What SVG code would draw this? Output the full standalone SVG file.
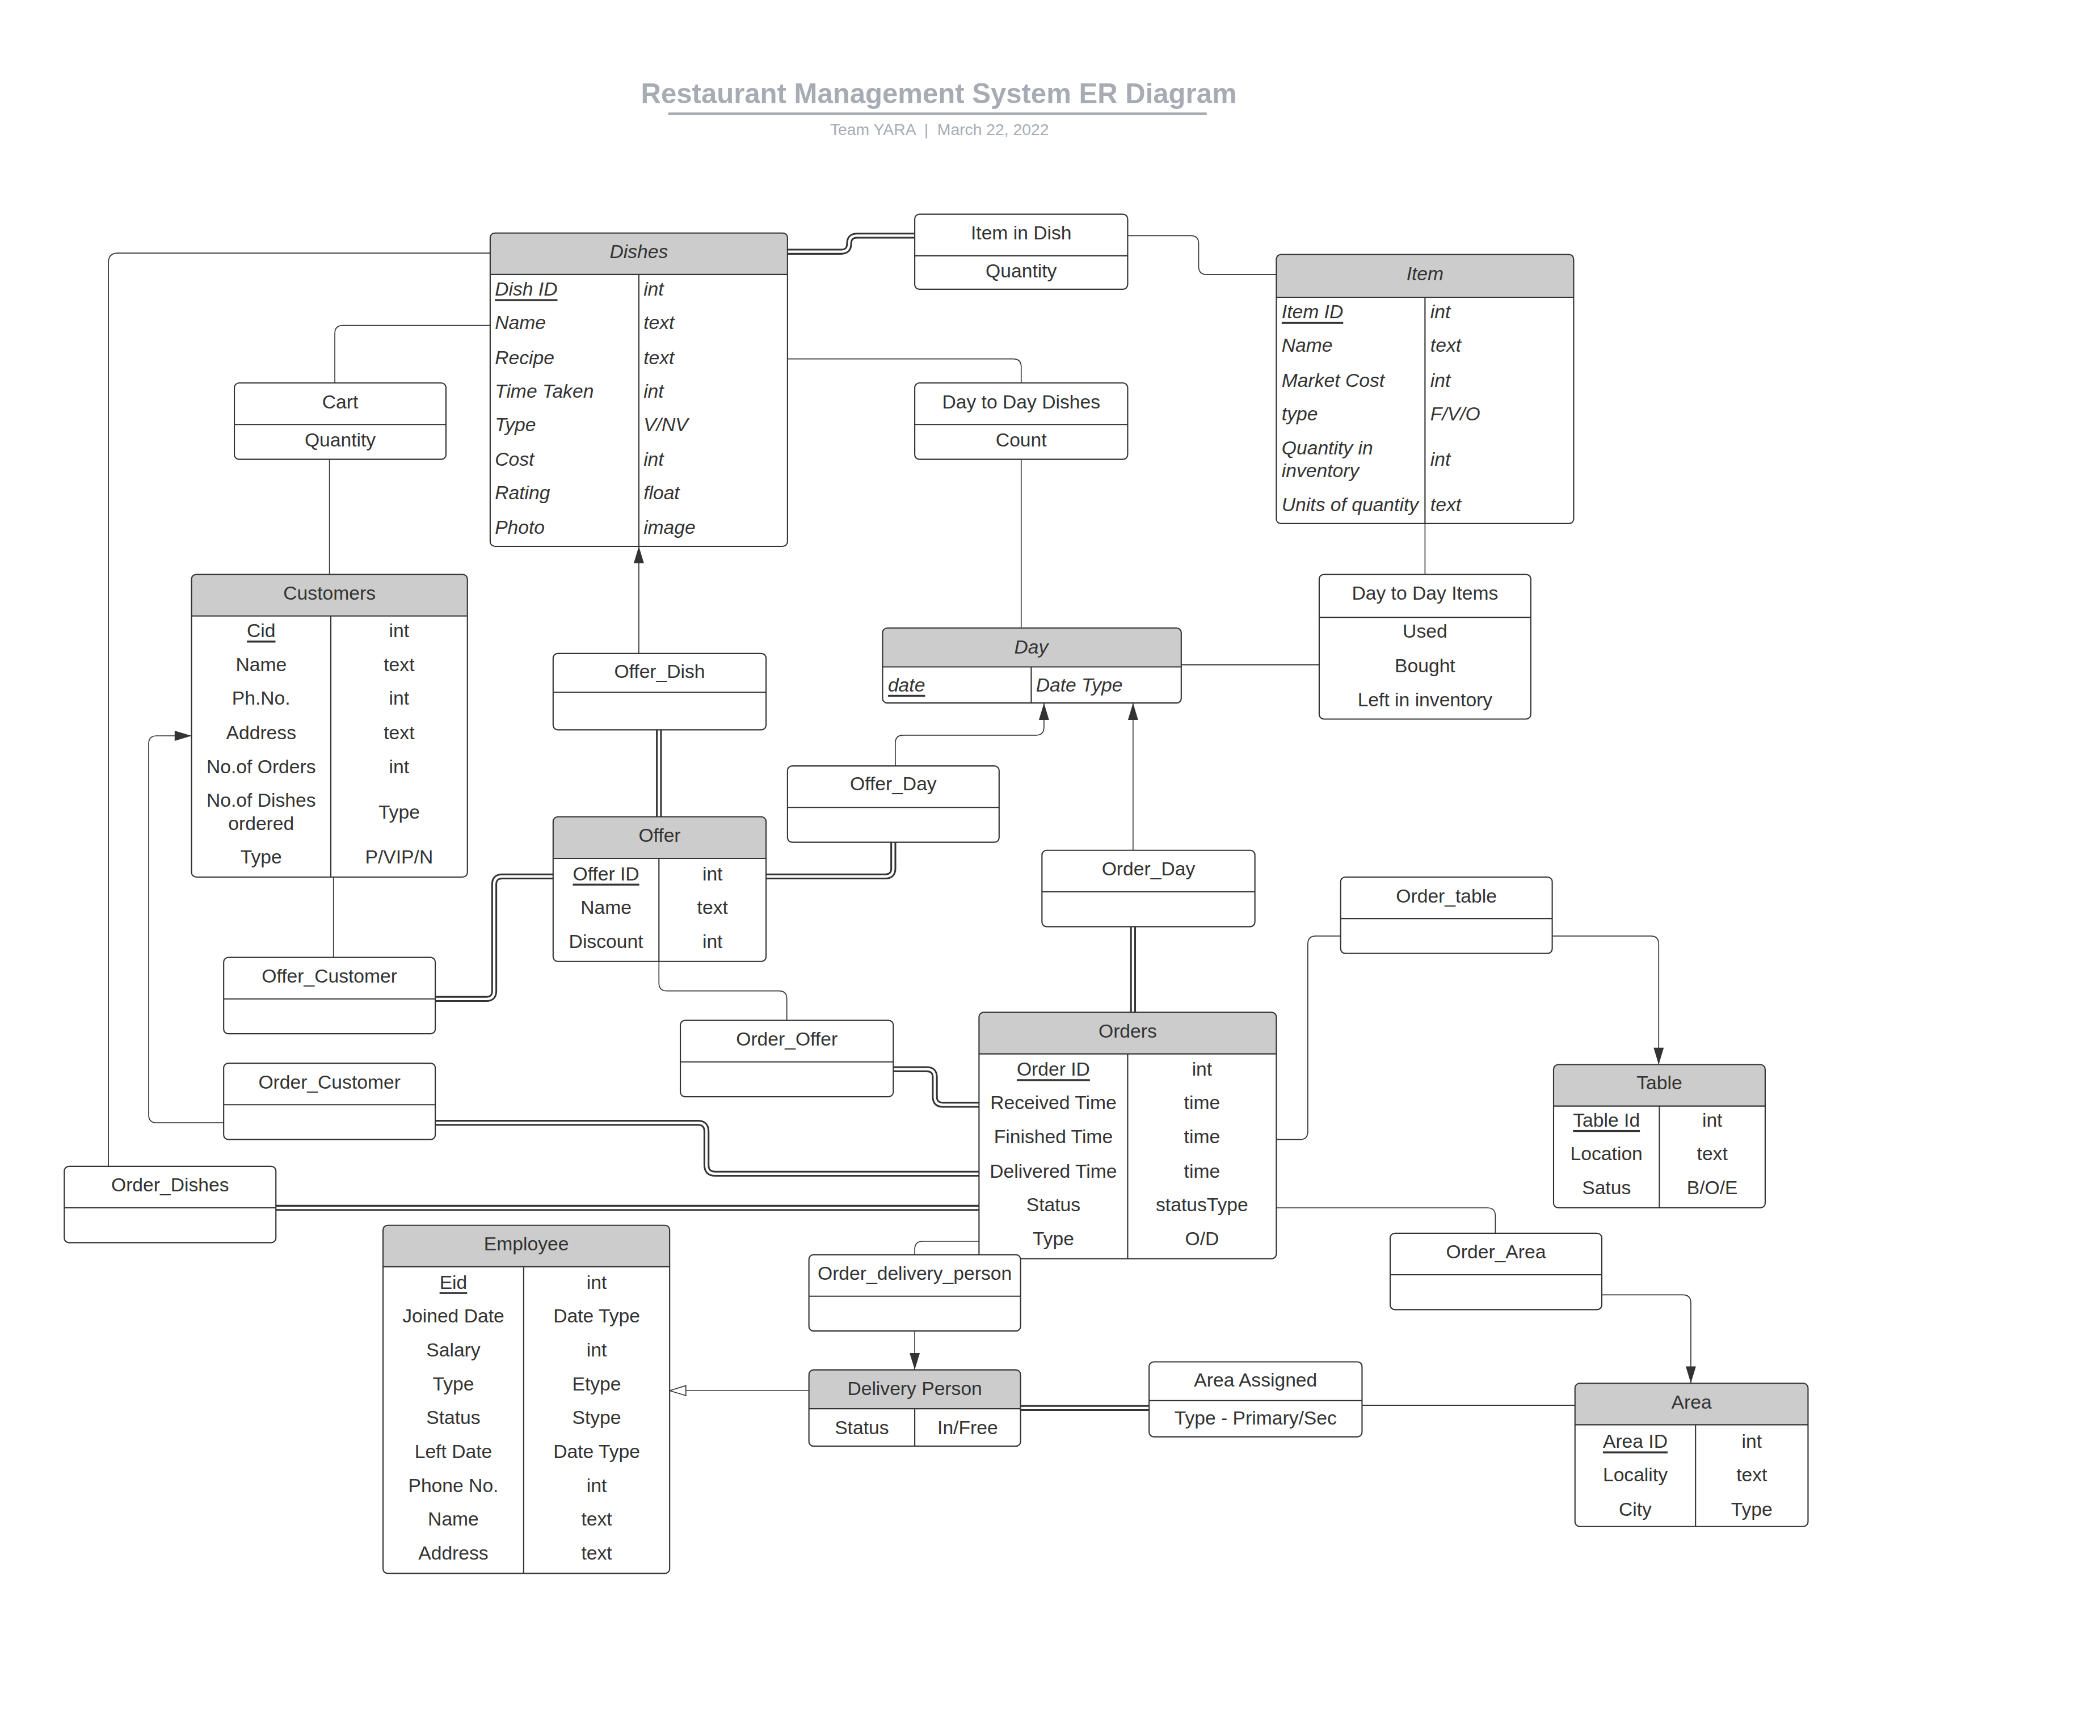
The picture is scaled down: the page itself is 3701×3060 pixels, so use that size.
<svg xmlns="http://www.w3.org/2000/svg" width="3701" height="3060" viewBox="0 0 3701 3060">
<style>
.bg{fill:#fff}
.h{fill:#cccccc}
.o{fill:none;stroke:#333;stroke-width:0.9}
.d{fill:none;stroke:#333;stroke-width:0.9}
.t{font-family:"Liberation Sans",Arial,sans-serif;font-size:14.26px;fill:#333;dominant-baseline:central}
.c{text-anchor:middle}
.i{font-style:italic}
.u{text-decoration:underline}
.ln{fill:none;stroke:#333;stroke-width:0.7}
.dbl{fill:none;stroke:#333;stroke-width:4.4}
.dbw{fill:none;stroke:#fff;stroke-width:1.8}
.ttl{font-family:"Liberation Sans",Arial,sans-serif;fill:#a6abb4;text-anchor:middle}
</style>
<defs>
<marker id="arr" markerUnits="userSpaceOnUse" markerWidth="14" markerHeight="9" refX="12.6" refY="3.8" orient="auto" overflow="visible"><path d="M0,0 L12.6,3.8 L0,7.6 Z" fill="#333"/></marker>
<marker id="tri" markerUnits="userSpaceOnUse" markerWidth="14" markerHeight="10" refX="12.6" refY="4.2" orient="auto" overflow="visible"><path d="M0.5,0.5 L12.6,4.2 L0.5,7.9 Z" fill="#fff" stroke="#333" stroke-width="0.7"/></marker>
</defs>
<rect width="3701" height="3060" fill="#fff"/>
<g transform="scale(2.36033)">
<g id="title">
<text class="ttl" x="701" y="77" font-size="20.8" font-weight="bold">Restaurant Management System ER Diagram</text>
<line x1="499" y1="85" x2="901" y2="85" stroke="#a6abb4" stroke-width="2.1"/>
<text class="ttl" x="701.5" y="101" font-size="12" xml:space="preserve">Team YARA  |  March 22, 2022</text>
</g>
<g id="connectors">
<path class="ln" d="M842,176 H889 Q895,176 895,182 V199 Q895,205 901,205 H953"/>
<path class="ln" d="M366,243 H256 Q250,243 250,249 V286"/>
<path class="ln" d="M246,343 V429"/>
<path class="ln" d="M588,268 H756.5 Q762.5,268 762.5,274 V286"/>
<path class="ln" d="M762.5,343 V469"/>
<path class="ln" d="M1064,391 V429"/>
<path class="ln" d="M882,496.5 H985"/>
<path class="ln" d="M477,488 V408" marker-end="url(#arr)"/>
<path class="ln" d="M668.5,572 V555 Q668.5,549 674.5,549 H773.5 Q779.5,549 779.5,543 V525" marker-end="url(#arr)"/>
<path class="ln" d="M249,655 V715"/>
<path class="ln" d="M492,718 V734 Q492,740 498,740 H581.5 Q587.5,740 587.5,746 V762"/>
<path class="ln" d="M846,635 V525" marker-end="url(#arr)"/>
<path class="ln" d="M81,871 V196 Q81,189 88,189 H366"/>
<path class="ln" d="M167,838.5 H117 Q111,838.5 111,832.5 V555.5 Q111,549.5 117,549.5 H143" marker-end="url(#arr)"/>
<path class="ln" d="M953,851 H970.5 Q976.5,851 976.5,845 V705 Q976.5,699 982.5,699 H1001"/>
<path class="ln" d="M1159,699 H1232.5 Q1238.5,699 1238.5,705 V795" marker-end="url(#arr)"/>
<path class="ln" d="M953,902 H1110.5 Q1116.5,902 1116.5,908 V921"/>
<path class="ln" d="M1196,967 H1256.5 Q1262.5,967 1262.5,973 V1033" marker-end="url(#arr)"/>
<path class="ln" d="M731,927 H689 Q683,927 683,933 V937"/>
<path class="ln" d="M683,994 V1023" marker-end="url(#arr)"/>
<path class="ln" d="M604,1038.5 H500" marker-end="url(#tri)"/>
<path class="ln" d="M1017,1049.5 H1176"/>
<g>
<path class="dbl" d="M588,188 H628 Q634,188 634,182 Q634,176 640,176 H683"/>
<path class="dbl" d="M492,545 V610"/>
<path class="dbl" d="M572,654.5 H661 Q667,654.5 667,648.5 V629"/>
<path class="dbl" d="M413,654.5 H375 Q369,654.5 369,660.5 V740 Q369,746 363,746 H325"/>
<path class="dbl" d="M846,692 V756"/>
<path class="dbl" d="M667,798.5 H692 Q698,798.5 698,804.5 V819 Q698,825 704,825 H731"/>
<path class="dbl" d="M325,838.5 H521 Q527.5,838.5 527.5,845 V870 Q527.5,876.5 534,876.5 H731"/>
<path class="dbl" d="M206,902 H731"/>
<path class="dbl" d="M762,1051.5 H858"/>
<path class="dbw" d="M588,188 H628 Q634,188 634,182 Q634,176 640,176 H683"/>
<path class="dbw" d="M492,545 V610"/>
<path class="dbw" d="M572,654.5 H661 Q667,654.5 667,648.5 V629"/>
<path class="dbw" d="M413,654.5 H375 Q369,654.5 369,660.5 V740 Q369,746 363,746 H325"/>
<path class="dbw" d="M846,692 V756"/>
<path class="dbw" d="M667,798.5 H692 Q698,798.5 698,804.5 V819 Q698,825 704,825 H731"/>
<path class="dbw" d="M325,838.5 H521 Q527.5,838.5 527.5,845 V870 Q527.5,876.5 534,876.5 H731"/>
<path class="dbw" d="M206,902 H731"/>
<path class="dbw" d="M762,1051.5 H858"/>
</g>
</g>

<g id="dishes">
<rect class="bg" x="366" y="174" width="222" height="234" rx="3.5"/>
<path class="h" d="M366,205 V177.5 Q366,174 369.5,174 H584.5 Q588,174 588,177.5 V205 Z"/>
<path class="d" d="M366,205 H588 M477,205 V408"/>
<rect class="o" x="366" y="174" width="222" height="234" rx="3.5"/>
<text class="t c i" x="477" y="188">Dishes</text>
<text class="t i u" x="369.5" y="216">Dish ID</text><text class="t i" x="480.5" y="216">int</text>
<text class="t i" x="369.5" y="241">Name</text><text class="t i" x="480.5" y="241">text</text>
<text class="t i" x="369.5" y="267">Recipe</text><text class="t i" x="480.5" y="267">text</text>
<text class="t i" x="369.5" y="292">Time Taken</text><text class="t i" x="480.5" y="292">int</text>
<text class="t i" x="369.5" y="317">Type</text><text class="t i" x="480.5" y="317">V/NV</text>
<text class="t i" x="369.5" y="343">Cost</text><text class="t i" x="480.5" y="343">int</text>
<text class="t i" x="369.5" y="368">Rating</text><text class="t i" x="480.5" y="368">float</text>
<text class="t i" x="369.5" y="394">Photo</text><text class="t i" x="480.5" y="394">image</text>
</g>

<g id="item">
<rect class="bg" x="953" y="190" width="222" height="201" rx="3.5"/>
<path class="h" d="M953,222 V193.5 Q953,190 956.5,190 H1171.5 Q1175,190 1175,193.5 V222 Z"/>
<path class="d" d="M953,222 H1175 M1064,222 V391"/>
<rect class="o" x="953" y="190" width="222" height="201" rx="3.5"/>
<text class="t c i" x="1064" y="204.5">Item</text>
<text class="t i u" x="957" y="233">Item ID</text><text class="t i" x="1068" y="233">int</text>
<text class="t i" x="957" y="258">Name</text><text class="t i" x="1068" y="258">text</text>
<text class="t i" x="957" y="284">Market Cost</text><text class="t i" x="1068" y="284">int</text>
<text class="t i" x="957" y="309">type</text><text class="t i" x="1068" y="309">F/V/O</text>
<text class="t i" x="957" y="334.5">Quantity in</text><text class="t i" x="957" y="351.5">inventory</text><text class="t i" x="1068" y="343">int</text>
<text class="t i" x="957" y="377">Units of quantity</text><text class="t i" x="1068" y="377">text</text>
</g>

<g id="item-in-dish">
<rect class="bg" x="683" y="160" width="159" height="56" rx="3.5"/>
<path class="d" d="M683,191 H842"/>
<rect class="o" x="683" y="160" width="159" height="56" rx="3.5"/>
<text class="t c" x="762.5" y="174">Item in Dish</text>
<text class="t c" x="762.5" y="202.5">Quantity</text>
</g>

<g id="cart">
<rect class="bg" x="175" y="286" width="158" height="57" rx="3.5"/>
<path class="d" d="M175,317 H333"/>
<rect class="o" x="175" y="286" width="158" height="57" rx="3.5"/>
<text class="t c" x="254" y="300">Cart</text>
<text class="t c" x="254" y="328.5">Quantity</text>
</g>

<g id="day-to-day-dishes">
<rect class="bg" x="683" y="286" width="159" height="57" rx="3.5"/>
<path class="d" d="M683,317 H842"/>
<rect class="o" x="683" y="286" width="159" height="57" rx="3.5"/>
<text class="t c" x="762.5" y="300">Day to Day Dishes</text>
<text class="t c" x="762.5" y="328.5">Count</text>
</g>

<g id="customers">
<rect class="bg" x="143" y="429" width="206" height="226" rx="3.5"/>
<path class="h" d="M143,460 V432.5 Q143,429 146.5,429 H345.5 Q349,429 349,432.5 V460 Z"/>
<path class="d" d="M143,460 H349 M247,460 V655"/>
<rect class="o" x="143" y="429" width="206" height="226" rx="3.5"/>
<text class="t c" x="246" y="443">Customers</text>
<text class="t c u" x="195" y="471">Cid</text><text class="t c" x="298" y="471">int</text>
<text class="t c" x="195" y="496.5">Name</text><text class="t c" x="298" y="496.5">text</text>
<text class="t c" x="195" y="521.5">Ph.No.</text><text class="t c" x="298" y="521.5">int</text>
<text class="t c" x="195" y="547">Address</text><text class="t c" x="298" y="547">text</text>
<text class="t c" x="195" y="572.5">No.of Orders</text><text class="t c" x="298" y="572.5">int</text>
<text class="t c" x="195" y="597.5">No.of Dishes</text><text class="t c" x="195" y="615">ordered</text><text class="t c" x="298" y="606.5">Type</text>
<text class="t c" x="195" y="640">Type</text><text class="t c" x="298" y="640">P/VIP/N</text>
</g>

<g id="day-to-day-items">
<rect class="bg" x="985" y="429" width="158" height="108" rx="3.5"/>
<path class="d" d="M985,461 H1143"/>
<rect class="o" x="985" y="429" width="158" height="108" rx="3.5"/>
<text class="t c" x="1064" y="443">Day to Day Items</text>
<text class="t c" x="1064" y="471.5">Used</text>
<text class="t c" x="1064" y="497">Bought</text>
<text class="t c" x="1064" y="522.5">Left in inventory</text>
</g>

<g id="day">
<rect class="bg" x="659" y="469" width="223" height="56" rx="3.5"/>
<path class="h" d="M659,498 V472.5 Q659,469 662.5,469 H878.5 Q882,469 882,472.5 V498 Z"/>
<path class="d" d="M659,498 H882 M770,498 V525"/>
<rect class="o" x="659" y="469" width="223" height="56" rx="3.5"/>
<text class="t c i" x="770" y="483">Day</text>
<text class="t i u" x="663" y="511.5">date</text>
<text class="t i" x="773.5" y="511.5">Date Type</text>
</g>

<g id="offer-dish">
<rect class="bg" x="413" y="488" width="159" height="57" rx="3.5"/>
<path class="d" d="M413,517 H572"/>
<rect class="o" x="413" y="488" width="159" height="57" rx="3.5"/>
<text class="t c" x="492.5" y="501.5">Offer_Dish</text>
</g>

<g id="offer-day">
<rect class="bg" x="588" y="572" width="158" height="57" rx="3.5"/>
<path class="d" d="M588,603 H746"/>
<rect class="o" x="588" y="572" width="158" height="57" rx="3.5"/>
<text class="t c" x="667" y="585.5">Offer_Day</text>
</g>

<g id="offer">
<rect class="bg" x="413" y="610" width="159" height="108" rx="3.5"/>
<path class="h" d="M413,641 V613.5 Q413,610 416.5,610 H568.5 Q572,610 572,613.5 V641 Z"/>
<path class="d" d="M413,641 H572 M492,641 V718"/>
<rect class="o" x="413" y="610" width="159" height="108" rx="3.5"/>
<text class="t c" x="492.5" y="624">Offer</text>
<text class="t c u" x="452.5" y="652.5">Offer ID</text><text class="t c" x="532" y="652.5">int</text>
<text class="t c" x="452.5" y="677.5">Name</text><text class="t c" x="532" y="677.5">text</text>
<text class="t c" x="452.5" y="703">Discount</text><text class="t c" x="532" y="703">int</text>
</g>

<g id="order-day">
<rect class="bg" x="778" y="635" width="159" height="57" rx="3.5"/>
<path class="d" d="M778,666 H937"/>
<rect class="o" x="778" y="635" width="159" height="57" rx="3.5"/>
<text class="t c" x="857.5" y="649">Order_Day</text>
</g>

<g id="order-table">
<rect class="bg" x="1001" y="655" width="158" height="57" rx="3.5"/>
<path class="d" d="M1001,686 H1159"/>
<rect class="o" x="1001" y="655" width="158" height="57" rx="3.5"/>
<text class="t c" x="1080" y="669">Order_table</text>
</g>

<g id="offer-customer">
<rect class="bg" x="167" y="715" width="158" height="57" rx="3.5"/>
<path class="d" d="M167,746 H325"/>
<rect class="o" x="167" y="715" width="158" height="57" rx="3.5"/>
<text class="t c" x="246" y="729">Offer_Customer</text>
</g>

<g id="order-offer">
<rect class="bg" x="508" y="762" width="159" height="57" rx="3.5"/>
<path class="d" d="M508,793 H667"/>
<rect class="o" x="508" y="762" width="159" height="57" rx="3.5"/>
<text class="t c" x="587.5" y="776">Order_Offer</text>
</g>

<g id="orders">
<rect class="bg" x="731" y="756" width="222" height="184" rx="3.5"/>
<path class="h" d="M731,787 V759.5 Q731,756 734.5,756 H949.5 Q953,756 953,759.5 V787 Z"/>
<path class="d" d="M731,787 H953 M842,787 V940"/>
<rect class="o" x="731" y="756" width="222" height="184" rx="3.5"/>
<text class="t c" x="842" y="770">Orders</text>
<text class="t c u" x="786.5" y="798.5">Order ID</text><text class="t c" x="897.5" y="798.5">int</text>
<text class="t c" x="786.5" y="823.5">Received Time</text><text class="t c" x="897.5" y="823.5">time</text>
<text class="t c" x="786.5" y="849">Finished Time</text><text class="t c" x="897.5" y="849">time</text>
<text class="t c" x="786.5" y="874.5">Delivered Time</text><text class="t c" x="897.5" y="874.5">time</text>
<text class="t c" x="786.5" y="899.5">Status</text><text class="t c" x="897.5" y="899.5">statusType</text>
<text class="t c" x="786.5" y="925">Type</text><text class="t c" x="897.5" y="925">O/D</text>
</g>

<g id="table">
<rect class="bg" x="1160" y="795" width="158" height="107" rx="3.5"/>
<path class="h" d="M1160,826 V798.5 Q1160,795 1163.5,795 H1314.5 Q1318,795 1318,798.5 V826 Z"/>
<path class="d" d="M1160,826 H1318 M1239,826 V902"/>
<rect class="o" x="1160" y="795" width="158" height="107" rx="3.5"/>
<text class="t c" x="1239" y="808.5">Table</text>
<text class="t c u" x="1199.5" y="836.5">Table Id</text><text class="t c" x="1278.5" y="836.5">int</text>
<text class="t c" x="1199.5" y="861.5">Location</text><text class="t c" x="1278.5" y="861.5">text</text>
<text class="t c" x="1199.5" y="887">Satus</text><text class="t c" x="1278.5" y="887">B/O/E</text>
</g>

<g id="order-customer">
<rect class="bg" x="167" y="794" width="158" height="57" rx="3.5"/>
<path class="d" d="M167,825 H325"/>
<rect class="o" x="167" y="794" width="158" height="57" rx="3.5"/>
<text class="t c" x="246" y="808">Order_Customer</text>
</g>

<g id="order-dishes">
<rect class="bg" x="48" y="871" width="158" height="57" rx="3.5"/>
<path class="d" d="M48,902 H206"/>
<rect class="o" x="48" y="871" width="158" height="57" rx="3.5"/>
<text class="t c" x="127" y="885">Order_Dishes</text>
</g>

<g id="employee">
<rect class="bg" x="286" y="915" width="214" height="260" rx="3.5"/>
<path class="h" d="M286,946 V918.5 Q286,915 289.5,915 H496.5 Q500,915 500,918.5 V946 Z"/>
<path class="d" d="M286,946 H500 M391,946 V1175"/>
<rect class="o" x="286" y="915" width="214" height="260" rx="3.5"/>
<text class="t c" x="393" y="929">Employee</text>
<text class="t c u" x="338.5" y="957.5">Eid</text><text class="t c" x="445.5" y="957.5">int</text>
<text class="t c" x="338.5" y="982.5">Joined Date</text><text class="t c" x="445.5" y="982.5">Date Type</text>
<text class="t c" x="338.5" y="1008">Salary</text><text class="t c" x="445.5" y="1008">int</text>
<text class="t c" x="338.5" y="1033.5">Type</text><text class="t c" x="445.5" y="1033.5">Etype</text>
<text class="t c" x="338.5" y="1058.5">Status</text><text class="t c" x="445.5" y="1058.5">Stype</text>
<text class="t c" x="338.5" y="1084">Left Date</text><text class="t c" x="445.5" y="1084">Date Type</text>
<text class="t c" x="338.5" y="1109.5">Phone No.</text><text class="t c" x="445.5" y="1109.5">int</text>
<text class="t c" x="338.5" y="1134.5">Name</text><text class="t c" x="445.5" y="1134.5">text</text>
<text class="t c" x="338.5" y="1160">Address</text><text class="t c" x="445.5" y="1160">text</text>
</g>

<g id="order-delivery-person">
<rect class="bg" x="604" y="937" width="158" height="57" rx="3.5"/>
<path class="d" d="M604,968 H762"/>
<rect class="o" x="604" y="937" width="158" height="57" rx="3.5"/>
<text class="t c" x="683" y="951">Order_delivery_person</text>
</g>

<g id="order-area">
<rect class="bg" x="1038" y="921" width="158" height="57" rx="3.5"/>
<path class="d" d="M1038,952 H1196"/>
<rect class="o" x="1038" y="921" width="158" height="57" rx="3.5"/>
<text class="t c" x="1117" y="935">Order_Area</text>
</g>

<g id="delivery-person">
<rect class="bg" x="604" y="1023" width="158" height="57" rx="3.5"/>
<path class="h" d="M604,1052 V1026.5 Q604,1023 607.5,1023 H758.5 Q762,1023 762,1026.5 V1052 Z"/>
<path class="d" d="M604,1052 H762 M683,1052 V1080"/>
<rect class="o" x="604" y="1023" width="158" height="57" rx="3.5"/>
<text class="t c" x="683" y="1037">Delivery Person</text>
<text class="t c" x="643.5" y="1066">Status</text><text class="t c" x="722.5" y="1066">In/Free</text>
</g>

<g id="area-assigned">
<rect class="bg" x="858" y="1017" width="159" height="56" rx="3.5"/>
<path class="d" d="M858,1046 H1017"/>
<rect class="o" x="858" y="1017" width="159" height="56" rx="3.5"/>
<text class="t c" x="937.5" y="1030.5">Area Assigned</text>
<text class="t c" x="937.5" y="1059">Type - Primary/Sec</text>
</g>

<g id="area">
<rect class="bg" x="1176" y="1033" width="174" height="107" rx="3.5"/>
<path class="h" d="M1176,1064 V1036.5 Q1176,1033 1179.5,1033 H1346.5 Q1350,1033 1350,1036.5 V1064 Z"/>
<path class="d" d="M1176,1064 H1350 M1266,1064 V1140"/>
<rect class="o" x="1176" y="1033" width="174" height="107" rx="3.5"/>
<text class="t c" x="1263" y="1047">Area</text>
<text class="t c u" x="1221" y="1076.5">Area ID</text><text class="t c" x="1308" y="1076.5">int</text>
<text class="t c" x="1221" y="1101.5">Locality</text><text class="t c" x="1308" y="1101.5">text</text>
<text class="t c" x="1221" y="1127">City</text><text class="t c" x="1308" y="1127">Type</text>
</g>
</g>
</svg>
